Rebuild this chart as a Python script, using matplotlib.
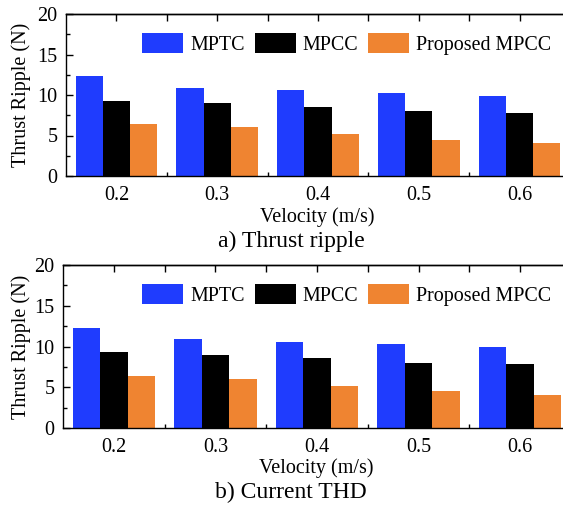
import matplotlib
matplotlib.use("Agg")
import matplotlib.pyplot as plt
import numpy as np

categories = ["0.2", "0.3", "0.4", "0.5", "0.6"]
series_names = ["MPTC", "MPCC", "Proposed MPCC"]
mptc = [12.3, 10.9, 10.6, 10.25, 9.9]
mpcc = [9.3, 8.97, 8.56, 8.0, 7.8]
proposed = [6.4, 6.0, 5.2, 4.5, 4.07]
colors = ["#1f3cfe", "#000000", "#ef8431"]
captions = ["a) Thrust ripple", "b) Current THD"]

plt.rcParams['font.family'] = ['Liberation Serif', 'DejaVu Serif']
plt.rcParams['font.size'] = 14

W, H = 563, 505
fig = plt.figure(figsize=(W / 100, H / 100), dpi=100)

# axes boxes in pixels: left, right, top, bottom
boxes = [(66, 570, 14, 176), (63, 571, 265, 428)]
caption_y = [241, 492]
legend_y = [44, 295]

x = np.arange(len(categories))
bw = 0.27
series = [mptc, mpcc, proposed]

for i, (l, r, t, b) in enumerate(boxes):
    ax = fig.add_axes([l / W, (H - b) / H, (r - l) / W, (b - t) / H])
    handles = []
    for k, (vals, c, name) in enumerate(zip(series, colors, series_names)):
        h = ax.bar(x + (k - 1) * bw, vals, width=bw, color=c, label=name,
                   linewidth=0)
        handles.append(h)
    ax.set_xlim(-0.5, 4.5)
    ax.set_ylim(0, 20)
    ax.set_yticks([0, 5, 10, 15, 20])
    ax.set_yticks(np.arange(2.5, 20, 5), minor=True)
    ax.set_xticks(x, categories)
    ax.set_xticks(np.arange(0.5, 4, 1), minor=True)
    ax.tick_params(axis='y', which='major', direction='in', length=5, width=1,
                   pad=6, labelsize=14.5)
    ax.tick_params(axis='y', which='minor', direction='in', length=3, width=1)
    ax.tick_params(axis='x', which='major', length=0, pad=7, labelsize=14.5)
    ax.tick_params(axis='x', which='minor', direction='in', length=3, width=1)
    for s in ax.spines.values():
        s.set_linewidth(1.0)
    sec = ax.secondary_xaxis('top')
    sec.set_xticks(np.arange(0, 4.6, 0.5))
    sec.set_xticklabels([])
    sec.tick_params(direction='in', length=5, width=1)
    sec.spines['top'].set_linewidth(1.0)

    ax.set_ylabel("Thrust Ripple (N)", fontsize=14.5, va='center')
    ax.yaxis.set_label_coords((21 - l) / (r - l), 0.5)
    ax.set_xlabel("Velocity (m/s)", fontsize=14.5, va='center')
    ax.xaxis.set_label_coords(0.498, (b - (217 if i == 0 else 468)) / (b - t))

    ax.legend(handles=handles, loc='center left',
              bbox_to_anchor=((142 - l) / (r - l), (b - legend_y[i]) / (b - t)),
              ncol=3, frameon=False, fontsize=14.4, handlelength=2.05,
              handleheight=1.1, handletextpad=0.35, columnspacing=0.5,
              borderpad=0, borderaxespad=0)

    fig.text(291 / W, (H - caption_y[i]) / H, captions[i], ha='center',
             va='center', fontsize=17)

fig.savefig("out.png", dpi=100)
